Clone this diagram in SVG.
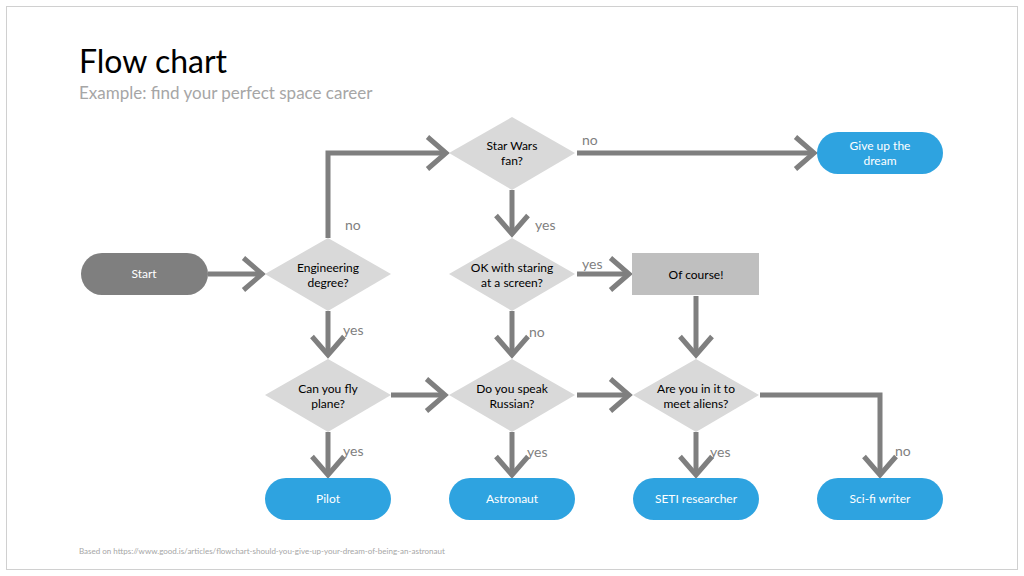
<svg xmlns="http://www.w3.org/2000/svg" width="1024" height="576" viewBox="0 0 1024 576">
<defs>
<style>
text{font-family:Lato,"Open Sans","Liberation Sans",sans-serif}
.d{fill:#d9d9d9}
.dt{font-size:12px;fill:#000;text-anchor:middle}
.b{fill:#2ea3e0}
.bt{font-size:12px;fill:#fff;text-anchor:middle}
.c{fill:none;stroke:#7f7f7f;stroke-width:5;marker-end:url(#ah)}
.l{font-size:14px;fill:#7f7f7f}
</style>
<marker id="ah" markerWidth="6" markerHeight="8" refX="4.5" refY="4" orient="auto" markerUnits="strokeWidth"><path d="M0.8,0.8 L4.5,4 L0.8,7.2" fill="none" stroke="#7f7f7f" stroke-width="1"/></marker>
</defs>
<rect x="0" y="0" width="1024" height="576" fill="#fff"/>
<rect x="6.5" y="6.5" width="1011" height="563" fill="none" stroke="#d0d0d0"/>
<text x="79" y="73" font-size="32" fill="#000">Flow chart</text>
<text x="79" y="99" font-size="17" fill="#a6a6a6">Example: find your perfect space career</text>
<text x="79" y="554" font-size="8" fill="#a6a6a6">Based on https://www.good.is/articles/flowchart-should-you-give-up-your-dream-of-being-an-astronaut</text>
<g id="connectors">
<path class="c" d="M208,274 H262"/>
<path class="c" d="M328,238 V153 H446"/>
<path class="c" d="M577,153 H814"/>
<path class="c" d="M512,190 V234"/>
<path class="c" d="M577,274 H629"/>
<path class="c" d="M512,311 V355"/>
<path class="c" d="M696,296 V355"/>
<path class="c" d="M328,311 V355"/>
<path class="c" d="M391,395 H445"/>
<path class="c" d="M577,395 H629"/>
<path class="c" d="M760,395 H880 V475"/>
<path class="c" d="M328,432 V475"/>
<path class="c" d="M512,432 V475"/>
<path class="c" d="M696,432 V475"/>
<text class="l" x="345" y="230">no</text>
<text class="l" x="535" y="230">yes</text>
<text class="l" x="582" y="145">no</text>
<text class="l" x="582" y="269">yes</text>
<text class="l" x="529" y="337">no</text>
<text class="l" x="343" y="335">yes</text>
<text class="l" x="343" y="456">yes</text>
<text class="l" x="527" y="457">yes</text>
<text class="l" x="710" y="457">yes</text>
<text class="l" x="895" y="456">no</text>
</g>
<g id="start"><rect x="81" y="253" width="127" height="42" rx="21" fill="#7f7f7f"/><text class="bt" x="144" y="278">Start</text></g>
<g id="eng"><polygon class="d" points="265,274 328,238 391,274 328,311"/><text class="dt" x="328" y="272">Engineering</text><text class="dt" x="328" y="287">degree?</text></g>
<g id="starwars"><polygon class="d" points="449,153 512,117 575,153 512,190"/><text class="dt" x="512" y="150">Star Wars</text><text class="dt" x="512" y="165">fan?</text></g>
<g id="giveup"><rect x="817" y="132" width="126" height="42" rx="21" class="b"/><text class="bt" x="880" y="150">Give up the</text><text class="bt" x="880" y="165">dream</text></g>
<g id="okscreen"><polygon class="d" points="449,274 512,238 575,274 512,311"/><text class="dt" x="512" y="272">OK with staring</text><text class="dt" x="512" y="287">at a screen?</text></g>
<g id="ofcourse"><rect x="632" y="253" width="127" height="42" fill="#bfbfbf"/><text class="dt" x="696" y="279">Of course!</text></g>
<g id="fly"><polygon class="d" points="265,395 328,359 391,395 328,432"/><text class="dt" x="328" y="393">Can you fly</text><text class="dt" x="328" y="408">plane?</text></g>
<g id="russian"><polygon class="d" points="449,395 512,359 575,395 512,432"/><text class="dt" x="512" y="393">Do you speak</text><text class="dt" x="512" y="408">Russian?</text></g>
<g id="aliens"><polygon class="d" points="633,395 696,359 759,395 696,432"/><text class="dt" x="696" y="393">Are you in it to</text><text class="dt" x="696" y="408">meet aliens?</text></g>
<g id="pilot"><rect x="265" y="478" width="126" height="42" rx="21" class="b"/><text class="bt" x="328" y="503">Pilot</text></g>
<g id="astronaut"><rect x="449" y="478" width="126" height="42" rx="21" class="b"/><text class="bt" x="512" y="503">Astronaut</text></g>
<g id="seti"><rect x="633" y="478" width="126" height="42" rx="21" class="b"/><text class="bt" x="696" y="503">SETI researcher</text></g>
<g id="scifi"><rect x="817" y="478" width="126" height="42" rx="21" class="b"/><text class="bt" x="880" y="503">Sci-fi writer</text></g>
</svg>
